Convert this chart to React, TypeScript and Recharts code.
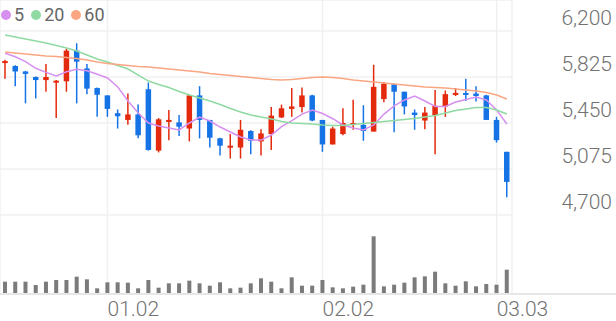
import React from 'react';
import { ComposedChart, Bar, Line, XAxis, YAxis, CartesianGrid } from 'recharts';

// trading days, first day of each month is labelled
const DATES = [
  '12.16', '12.17', '12.18', '12.19', '12.22', '12.23', '12.24', '12.26', '12.29', '12.30',
  '01.02', '01.05', '01.06', '01.07', '01.08', '01.09', '01.12', '01.13', '01.14', '01.15',
  '01.16', '01.19', '01.20', '01.21', '01.22', '01.23', '01.26', '01.27', '01.28', '01.29',
  '01.30', '02.02', '02.03', '02.04', '02.05', '02.06', '02.09', '02.10', '02.11', '02.12',
  '02.13', '02.19', '02.20', '02.23', '02.24', '02.25', '02.26', '02.27', '03.03', '03.04',
];
const X_TICKS = ['01.02', '02.02', '03.03'];
const PRICE_TICKS = [4700, 5075, 5450, 5825, 6200];

const OPEN = [
  5940, 5915, 5870, 5825, 5800, 5780, 5790, 6040, 5895, 5735,
  5675, 5530, 5475, 5520, 5725, 5225, 5465, 5455, 5405, 5675,
  5475, 5325, 5250, 5250, 5385, 5300, 5360, 5495, 5565, 5580,
  5675, 5475, 5275, 5360, 5435, 5435, 5380, 5645, 5765, 5705,
  5535, 5470, 5515, 5585, 5680, 5695, 5690, 5675, 5475, 5215,
];
const HIGH = [
  5965, 5920, 5875, 5830, 5930, 5800, 6055, 6100, 5930, 5740,
  5675, 5560, 5690, 5600, 5780, 5490, 5555, 5515, 5680, 5750,
  5475, 5330, 5360, 5475, 5390, 5400, 5580, 5600, 5735, 5740,
  5680, 5475, 5420, 5570, 5640, 5595, 5925, 5785, 5770, 5705,
  5560, 5580, 5720, 5715, 5735, 5810, 5750, 5680, 5500, 5215,
];
const LOW = [
  5810, 5750, 5610, 5650, 5705, 5490, 5705, 5610, 5685, 5500,
  5500, 5405, 5435, 5325, 5225, 5210, 5310, 5345, 5300, 5325,
  5250, 5185, 5160, 5160, 5195, 5185, 5230, 5490, 5500, 5535,
  5465, 5215, 5275, 5350, 5395, 5305, 5380, 5620, 5375, 5520,
  5395, 5400, 5195, 5500, 5670, 5630, 5625, 5475, 5290, 4845,
];
const CLOSE = [
  5955, 5870, 5850, 5800, 5825, 5795, 6040, 5950, 5730, 5680,
  5565, 5505, 5520, 5350, 5230, 5480, 5475, 5420, 5675, 5475,
  5330, 5265, 5265, 5395, 5305, 5365, 5510, 5570, 5585, 5675,
  5470, 5275, 5405, 5450, 5450, 5385, 5745, 5770, 5705, 5585,
  5515, 5535, 5590, 5685, 5695, 5680, 5670, 5475, 5310, 4970,
];
const MA5 = [
  6018, 5990, 5950, 5896, 5863, 5833, 5868, 5888, 5876, 5847,
  5817, 5743, 5629, 5532, 5450, 5426, 5409, 5393, 5450, 5499,
  5466, 5417, 5377, 5336, 5311, 5311, 5352, 5420, 5469, 5523,
  5556, 5527, 5485, 5434, 5409, 5393, 5434, 5523, 5589, 5638,
  5670, 5629, 5585, 5585, 5621, 5642, 5662, 5638, 5556, 5442,
];
const MA20 = [
  6167, 6151, 6135, 6118, 6102, 6082, 6061, 6037, 6004, 5972,
  5947, 5919, 5890, 5841, 5792, 5764, 5739, 5707, 5678, 5654,
  5629, 5601, 5568, 5540, 5515, 5499, 5483, 5462, 5450, 5446,
  5442, 5434, 5430, 5430, 5438, 5446, 5454, 5462, 5470, 5479,
  5487, 5499, 5511, 5532, 5552, 5564, 5576, 5576, 5556, 5523,
];
const MA60 = [
  6029, 6021, 6013, 6004, 5996, 5992, 5984, 5976, 5964, 5947,
  5935, 5927, 5919, 5911, 5907, 5898, 5890, 5882, 5874, 5866,
  5854, 5846, 5837, 5829, 5821, 5813, 5805, 5801, 5805, 5813,
  5821, 5825, 5821, 5813, 5801, 5792, 5784, 5776, 5768, 5760,
  5752, 5743, 5739, 5735, 5727, 5719, 5711, 5699, 5678, 5646,
];
// thousand shares
const VOLUME = [
  370, 370, 370, 270, 370, 420, 420, 520, 440, 170,
  350, 350, 340, 170, 420, 190, 320, 320, 400, 320,
  250, 350, 170, 190, 320, 470, 370, 170, 500, 250,
  250, 420, 200, 170, 220, 280, 1730, 230, 280, 340,
  500, 530, 670, 320, 250, 380, 230, 300, 280, 730,
];

const C = {
  up: '#e42a0c',
  down: '#1673e6',
  ma5: '#d690ef',
  ma20: '#8fdaa2',
  ma60: '#fba682',
  vol: '#7b7b7b',
  grid: '#f0f0f0',
  text: '#727272',
} as const;

const SERIES = [
  { key: 'ma5', label: '5', color: C.ma5 },
  { key: 'ma20', label: '20', color: C.ma20 },
  { key: 'ma60', label: '60', color: C.ma60 },
];

const W = 616;
const H = 321;
const PLOT_BOTTOM = 294;
const FONT = 'Roboto, "Noto Sans", sans-serif';

const data = DATES.map((date, i) => ({
  date,
  open: OPEN[i],
  high: HIGH[i],
  low: LOW[i],
  close: CLOSE[i],
  range: [LOW[i], HIGH[i]],
  ma5: MA5[i],
  ma20: MA20[i],
  ma60: MA60[i],
  volume: VOLUME[i],
}));

// wick = full range bar, body interpolated inside it
const Candle = (props: any) => {
  const { x, y, width, height, payload } = props;
  if (x == null || y == null) return null;
  const top = Math.min(y, y + height);
  const h = Math.abs(height);
  const { open, close, high, low } = payload;
  const k = high > low ? h / (high - low) : 0;
  const yo = top + (high - open) * k;
  const yc = top + (high - close) * k;
  const color = close >= open ? C.up : C.down;
  const cx = x + width / 2;
  const bodyTop = Math.min(yo, yc);
  const bodyH = Math.max(Math.abs(yo - yc), 2);
  return (
    <g>
      <line x1={cx} x2={cx} y1={top} y2={top + h} stroke={color} strokeWidth={1.5} />
      <rect x={cx - 2.75} y={bodyTop} width={5.5} height={bodyH} fill={color} />
    </g>
  );
};

const VolBar = (props: any) => {
  const { x, y, width, height } = props;
  if (x == null || y == null) return null;
  const cx = x + width / 2;
  return <rect x={cx - 2} y={Math.min(y, y + height)} width={4} height={Math.abs(height)} fill={C.vol} />;
};

const PriceTick = (props: any) => {
  const { y, payload } = props;
  return (
    <text x={W - 4} y={y - 6} textAnchor="end" fill={C.text} fontSize={21} fontWeight={300} fontFamily={FONT}>
      {payload.value.toLocaleString('en-US')}
    </text>
  );
};

const DateTick = (props: any) => {
  const { x, payload } = props;
  return (
    <text x={x} y={PLOT_BOTTOM + 22} textAnchor="start" fill={C.text} fontSize={21} fontWeight={300} fontFamily={FONT}>
      {payload.value}
    </text>
  );
};

export default function App() {
  return (
    <div style={{ position: 'absolute', left: 0, top: 0, width: W, height: H, background: '#fff' }}>
      <ComposedChart width={W} height={H} data={data} margin={{ top: 0, right: 0, bottom: 0, left: 0 }} barGap={-6}>
        <CartesianGrid yAxisId="price" stroke={C.grid} strokeWidth={1.5} />
        <XAxis
          dataKey="date"
          ticks={X_TICKS}
          interval={0}
          height={H - PLOT_BOTTOM}
          axisLine={false}
          tickLine={false}
          tick={<DateTick />}
        />
        <YAxis
          yAxisId="price"
          orientation="right"
          width={104}
          domain={[4055.98, 6452.72]}
          ticks={PRICE_TICKS}
          allowDataOverflow
          axisLine={false}
          tickLine={false}
          tick={<PriceTick />}
        />
        <YAxis yAxisId="vol" hide domain={[0, 8820]} allowDataOverflow />
        {SERIES.map(s => (
          <Line
            key={s.key}
            yAxisId="price"
            dataKey={s.key}
            stroke={s.color}
            strokeWidth={1.5}
            dot={false}
            activeDot={false}
            type="linear"
            isAnimationActive={false}
          />
        ))}
        <Bar yAxisId="vol" dataKey="volume" barSize={6} shape={<VolBar />} isAnimationActive={false} />
        <Bar yAxisId="price" dataKey="range" barSize={6} shape={<Candle />} isAnimationActive={false} />
      </ComposedChart>
      <div style={{ position: 'absolute', left: 0, top: PLOT_BOTTOM - 1, width: W, height: 2, background: '#e6e6e6' }} />
      <div style={{ position: 'absolute', left: 1, top: 4, display: 'flex', alignItems: 'center', fontFamily: FONT, fontSize: 18, color: '#666' }}>
        {SERIES.map(s => (
          <div key={s.key} style={{ display: 'flex', alignItems: 'center', marginRight: 7 }}>
            <span style={{ width: 10, height: 10, borderRadius: 5, background: s.color, marginRight: 3 }} />
            <span style={{ lineHeight: '22px' }}>{s.label}</span>
          </div>
        ))}
      </div>
    </div>
  );
}
